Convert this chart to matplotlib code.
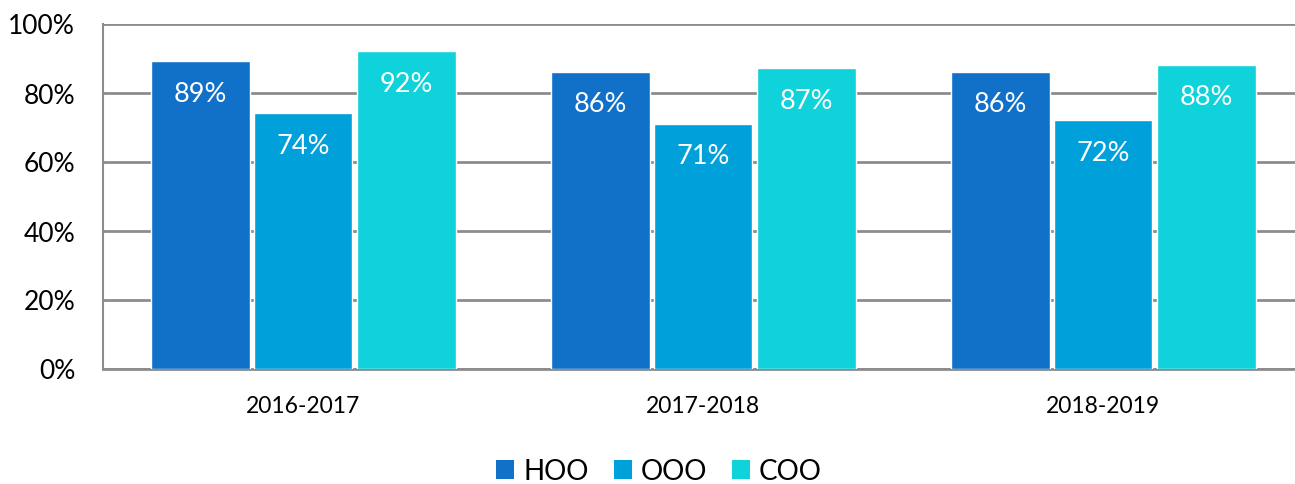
import matplotlib
matplotlib.use("Agg")
import matplotlib.pyplot as plt
from matplotlib.patches import Patch
import numpy as np

plt.rcParams['font.family'] = ['Lato', 'DejaVu Sans']

categories = ["2016-2017", "2017-2018", "2018-2019"]
series_names = ["HOO", "OOO", "COO"]
hoo = [89, 86, 86]
ooo = [74, 71, 72]
coo = [92, 87, 88]
yticks = [0, 20, 40, 60, 80, 100]
ytick_labels = ["0%", "20%", "40%", "60%", "80%", "100%"]

colors = ["#1170C8", "#00A0DA", "#0FD2DA"]
series = [hoo, ooo, coo]

fig = plt.figure(figsize=(12.95, 4.85), dpi=100)
ax = fig.add_axes([103/1295, 115.5/485, 1200/1295, 345/485])

x = np.arange(len(categories))
offsets = [-0.257, 0.0, 0.259]
width = 0.247
for vals, off, col in zip(series, offsets, colors):
    bars = ax.bar(x + off, vals, width, color=col, edgecolor="white", linewidth=1.0, zorder=3)
    for b, v in zip(bars, vals):
        ax.annotate(f"{v}%", (b.get_x() + b.get_width()/2, v), xytext=(0, -23),
                    textcoords="offset points", ha="center", va="center",
                    color="white", fontsize=19.5, zorder=4)

ax.set_xlim(-0.5, 2.5)
ax.set_ylim(0, 100)
ax.set_yticks(yticks)
ax.set_yticklabels(ytick_labels, fontsize=19)
ax.set_xticks(x)
ax.set_xticklabels(categories, fontsize=16.5)
ax.tick_params(axis="both", length=0)
ax.tick_params(axis="y", pad=20)
ax.tick_params(axis="x", pad=19)
ax.grid(axis="y", color="#8C8C8C", linewidth=2, zorder=0)
for s in ["top", "right"]:
    ax.spines[s].set_visible(False)
ax.spines["left"].set_color("#8C8C8C")
ax.spines["left"].set_linewidth(1.5)
ax.spines["bottom"].set_color("#8C8C8C")
ax.spines["bottom"].set_linewidth(2)

handles = [Patch(facecolor=c, edgecolor="none") for c in colors]
fig.legend(handles, series_names, loc="center", bbox_to_anchor=(659/1295, 1 - 472/485),
           ncol=3, frameon=False, fontsize=20, handlelength=0.65, handleheight=0.65,
           handletextpad=0.32, columnspacing=0.9, borderpad=0, borderaxespad=0)

fig.savefig("out.png", dpi=100)
